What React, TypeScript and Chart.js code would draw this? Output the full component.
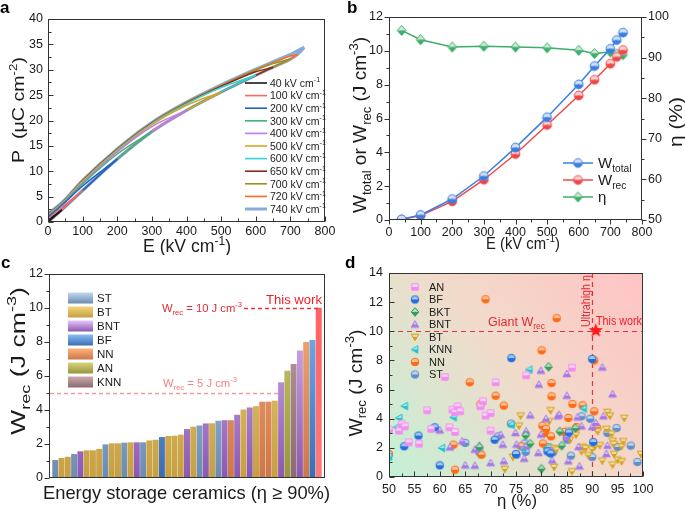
import React, { useEffect, useRef } from 'react';
import { Chart, registerables } from 'chart.js';

Chart.register(...registerables);

const FONT = '"Liberation Sans", Arial, Helvetica, sans-serif';
const TXT = '#1b1b1b';
const AXIS = '#333333';
Chart.defaults.font.family = FONT;
Chart.defaults.color = TXT;

/* ---------------- panel a: P-E loops ---------------- */
const loopFields = [40, 100, 200, 300, 400, 500, 600, 650, 700, 720, 740];
const chargeE = [0, 40, 100, 200, 300, 400, 500, 600, 650, 700, 720, 740];
const chargeP = [0, 2.4, 6.2, 12.4, 17.8, 22.0, 25.6, 28.9, 30.5, 32.1, 33.0, 34.4];
const dischargeP = [
  [0.3, 2.4],
  [0.6, 2.9, 6.2],
  [0.9, 3.3, 7.1, 12.4],
  [1.1, 3.4, 7.5, 13.4, 17.8],
  [1.2, 3.5, 7.7, 13.8, 18.8, 22.0],
  [1.3, 3.6, 7.9, 14.0, 19.2, 23.0, 25.6],
  [1.4, 3.7, 8.0, 14.2, 19.4, 23.3, 26.5, 28.9],
  [1.5, 3.7, 8.1, 14.3, 19.5, 23.4, 26.7, 29.6, 30.5],
  [1.5, 3.8, 8.1, 14.3, 19.5, 23.5, 26.8, 29.9, 31.2, 32.1],
  [1.6, 3.8, 8.2, 14.4, 19.6, 23.6, 26.9, 30.0, 31.4, 32.7, 33.0],
  [1.6, 3.8, 8.2, 14.4, 19.6, 23.6, 27.0, 30.1, 31.6, 33.0, 33.7, 34.4],
];

/* ---------------- panel b ---------------- */
const fieldsB = [40, 100, 200, 300, 400, 500, 600, 650, 700, 720, 740];
const wTotal = [0.04, 0.3, 1.24, 2.6, 4.28, 6.08, 8.02, 9.1, 10.12, 10.64, 11.08];
const wRec = [0.03, 0.26, 1.1, 2.38, 3.9, 5.62, 7.36, 8.29, 9.24, 9.64, 10.05];
const etaB = [96.7, 94.4, 92.6, 92.8, 92.6, 92.4, 91.8, 91.0, 91.4, 90.9, 90.7];

/* ---------------- panel c ---------------- */
const barTypes = ['ST', 'BT', 'BT', 'ST', 'BNT', 'BT', 'BT', 'BT', 'ST', 'BT', 'BT', 'ST', 'BT', 'BNT', 'ST', 'BT', 'BT', 'BF', 'BT', 'BT', 'BT',
  'BNT', 'BT', 'ST', 'BNT', 'BT', 'ST', 'BNT', 'NN', 'BNT', 'BT', 'BNT', 'BT', 'NN', 'NN', 'BT', 'BNT', 'AN', 'KNN', 'BNT', 'NN', 'BF', 'This work'];
const barValues = [1.04, 1.16, 1.23, 1.39, 1.55, 1.61, 1.61, 1.69, 1.96, 2.02, 2.02, 2.06, 2.08, 2.08, 2.08, 2.19, 2.23, 2.39, 2.45, 2.47, 2.53,
  2.86, 3.0, 3.07, 3.19, 3.2, 3.35, 3.38, 3.38, 3.7, 4.01, 4.13, 4.21, 4.47, 4.47, 4.53, 5.61, 6.29, 6.69, 7.48, 7.98, 8.1, 10.0];
const legendTypesC = ['ST', 'BT', 'BNT', 'BF', 'NN', 'AN', 'KNN'];
const refLinesC = [10, 5];

/* ---------------- panel d ---------------- */
const classesD = ['AN', 'BF', 'BKT', 'BNT', 'BT', 'KNN', 'NN', 'ST'];
const anPts = [[50, 3.25], [52, 3.18], [52.5, 3.66], [53.1, 3.48], [53.9, 2.38], [55.9, 2.29], [57.5, 4.58], [58.3, 3.3], [61, 6.87], [61.9, 3.41], [62.5, 4.62], [63, 4.46], [63, 3.09], [63.5, 4.85], [64, 4.51], [68, 4.85], [68.5, 5.2], [69, 4.21], [70, 4.39], [70, 3.18], [71, 6.5], [77, 6.98], [86, 7.5]];
const bfPts = [[53, 2.11], [55.8, 2.84], [59, 3.41], [60, 0.8], [70.8, 2.56], [74.1, 8.16], [75, 1.58], [81.2, 1.76], [81.8, 1.62], [85.4, 3.05], [90, 8.1], [90.2, 2.4]];
const bktPts = [[67.8, 2.05], [76.9, 2.86], [77.8, 2.29], [80, 0.57], [81.4, 7.56], [83.6, 3.12], [84, 2.15], [86.7, 3.35]];
const bntPts = [[60, 3.2], [62, 2.04], [64.4, 2.45], [65, 0.8], [66.9, 1.88], [66.9, 0.78], [67.8, 2.15], [70, 0.96], [72, 2.9], [72.4, 2.22], [72.6, 1.08], [74.9, 3.02], [75.1, 2.22], [76.6, 1.26], [77, 3.14], [77, 2.11], [77.8, 4.23], [79.4, 1.65], [79.5, 6.34], [79.9, 7.3], [79.9, 2.91], [80.9, 4.0], [81.9, 1.83], [82.1, 1.14], [83.2, 4.17], [83.5, 4.28], [85, 7.07], [85, 5.58], [85, 2.75], [85.3, 1.08], [87.1, 4.1], [87.3, 2.06], [87.5, 0.73], [87.9, 3.48], [90, 3.43], [90.7, 3.71], [92, 7.52], [92.2, 4.17], [92.8, 1.58], [93, 2.15], [94, 5.68]];
const btPts = [[72.8, 0.55], [74.4, 1.38], [75.6, 3.52], [75.9, 4.21], [81.5, 3.82], [81.8, 4.58], [82.3, 1.99], [82.5, 0.69], [82.9, 1.88], [85.4, 3.2], [85.6, 2.55], [86, 0.39], [86.8, 2.91], [87.9, 1.76], [88.2, 2.07], [88.7, 1.99], [89.2, 1.5], [90, 1.92], [90.5, 2.11], [91.1, 3.14], [91.5, 2.18], [92, 1.12], [92.8, 3.3], [93, 4.46], [93.5, 4.21], [93.8, 2.97], [94, 2.49], [94, 0.85], [94.2, 2.27], [94.3, 1.58], [95, 1.19], [95.8, 2.11], [95.8, 1.08], [96.1, 2.45], [96.3, 4.05], [99.6, 1.58]];
const knnPts = [[50, 1.4], [51.6, 3.41], [52, 4.05], [53.1, 4.87], [60.4, 1.99], [62.7, 4.1], [74.1, 3.59], [76.4, 1.95], [77.6, 7.37], [81.4, 2.06], [88.3, 4.7]];
const nnPts = [[50, 1.58], [62.7, 2.22], [63, 0.5], [65.9, 6.5], [68, 4.99], [68.2, 1.53], [69, 12.2], [71, 5.58], [72.6, 4.9], [76, 2.11], [80.05, 8.69], [80.2, 3.52], [80.3, 2.3], [80.7, 3.02], [80.9, 3.3], [81.9, 2.79], [82, 6.45], [82, 5.54], [83, 10.9], [84.5, 3.09], [85.3, 4.05], [86.1, 5.01], [86.9, 3.43], [88.1, 4.92], [90.4, 8.0], [90.4, 4.51], [90.9, 3.41]];
const stPts = [[65, 2.34], [67.8, 1.7], [71.5, 2.79], [74, 3.66], [75.1, 1.53], [76.7, 2.3], [76.9, 1.72], [81.1, 2.06], [82.3, 1.7], [85, 2.75], [85.1, 2.56], [85.8, 1.46], [87.9, 4.17], [89.6, 4.0], [90, 1.37], [93, 3.02], [94.8, 3.36], [95, 2.06], [97.6, 2.15], [98.9, 1.03]];
const thisWorkD = [[90.7, 10.05]];
const giantW = 10;
const ultraEta = 90;

/* ---------------- styles ---------------- */
const loopColors = ['#1a1a1a', '#f26b6b', '#1f5fcf', '#3db37a', '#c477f0', '#d9a521', '#35d3d3', '#8a2a22', '#97951a', '#ff6a1f', '#86acd9'];
const barTop: Record<string, string> = { ST: '#c4d9ef', BT: '#f3d67c', BNT: '#e6c8fb', BF: '#88bff4', NN: '#ffb27a', AN: '#d8d47a', KNN: '#cbabab', 'This work': '#ff5c5c' };
const barBottom: Record<string, string> = { ST: '#6a8cb0', BT: '#c69f42', BNT: '#8a58b2', BF: '#3c6db4', NN: '#cc774a', AN: '#98943c', KNN: '#8a6970', 'This work': '#ff7a7a' };
const shapeD: Record<string, string> = { AN: 'square', BF: 'circle', BKT: 'diamond', BNT: 'up', BT: 'down', KNN: 'left', NN: 'circle', ST: 'circle' };
const colorD: Record<string, string> = { AN: '#f28ef0', BF: '#1f6fe0', BKT: '#2f9e5e', BNT: '#a678e6', BT: '#d4a21c', KNN: '#1fc2cf', NN: '#ff6a12', ST: '#5f8fcb' };
const ptsD: Record<string, number[][]> = { AN: anPts, BF: bfPts, BKT: bktPts, BNT: bntPts, BT: btPts, KNN: knnPts, NN: nnPts, ST: stPts };

/* ---------------- helpers ---------------- */
type Seg = [string, number];

function drawRich(ctx: any, segs: Seg[], x: number, y: number, size: number, color: string, opts: any = {}) {
  const small = size * 0.68;
  ctx.save();
  ctx.translate(x, y);
  if (opts.rot) ctx.rotate(opts.rot);
  let w = 0;
  const widths = segs.map(([t, k]) => {
    ctx.font = `${opts.weight || 'normal'} ${k ? small : size}px ${FONT}`;
    const m = ctx.measureText(t).width;
    w += m;
    return m;
  });
  if (opts.len) ctx.scale(opts.len / w, 1);
  const align = opts.align || 'center';
  let cx = align === 'center' ? -w / 2 : align === 'right' ? -w : 0;
  ctx.fillStyle = color;
  ctx.textBaseline = 'alphabetic';
  ctx.textAlign = 'left';
  const base = size * 0.36;
  segs.forEach(([t, k], i) => {
    ctx.font = `${opts.weight || 'normal'} ${k ? small : size}px ${FONT}`;
    const dy = k === 1 ? size * 0.25 : k === 2 ? -size * 0.42 : 0;
    ctx.fillText(t, cx, base + dy);
    cx += widths[i];
  });
  ctx.restore();
}

function frame(ctx: any, ca: any) {
  ctx.save();
  ctx.strokeStyle = AXIS;
  ctx.lineWidth = 1;
  ctx.strokeRect(Math.round(ca.left) + 0.5, Math.round(ca.top) + 0.5, Math.round(ca.right - ca.left) - 1, Math.round(ca.bottom - ca.top) - 1);
  ctx.restore();
}

function drawTicks(ctx: any, scale: any, side: string, major: number, minor: number, inward: boolean) {
  const ca = scale.chart.chartArea;
  ctx.save();
  ctx.strokeStyle = AXIS;
  ctx.lineWidth = 1;
  ctx.beginPath();
  const n = Math.round((scale.max - scale.min) / minor);
  for (let i = 0; i <= n; i++) {
    const v = scale.min + i * minor;
    const isMaj = Math.abs(v / major - Math.round(v / major)) < 1e-6;
    const len = isMaj ? 5 : 3;
    const p = Math.round(scale.getPixelForValue(v)) + 0.5;
    if (side === 'b') {
      const y0 = Math.round(ca.bottom) - 0.5;
      ctx.moveTo(p, y0);
      ctx.lineTo(p, inward ? y0 - len : y0 + len);
    } else if (side === 'l') {
      const x0 = Math.round(ca.left) + 0.5;
      ctx.moveTo(x0, p);
      ctx.lineTo(inward ? x0 + len : x0 - len, p);
    } else {
      const x0 = Math.round(ca.right) - 0.5;
      ctx.moveTo(x0, p);
      ctx.lineTo(inward ? x0 - len : x0 + len, p);
    }
  }
  ctx.stroke();
  ctx.restore();
}

function panelLabel(ctx: any, t: string, x: number, y: number) {
  ctx.save();
  ctx.font = `bold 17px ${FONT}`;
  ctx.fillStyle = '#000';
  ctx.textBaseline = 'alphabetic';
  ctx.textAlign = 'left';
  ctx.fillText(t, x, y);
  ctx.restore();
}

function mix(hex: string, t: number) {
  const n = parseInt(hex.slice(1), 16);
  const r = (n >> 16) & 255, g = (n >> 8) & 255, b = n & 255;
  const f = (c: number) => Math.round(c + (255 - c) * t);
  return `rgb(${f(r)},${f(g)},${f(b)})`;
}

function shapePath(g: any, shape: string, cx: number, cy: number, r: number) {
  g.beginPath();
  if (shape === 'circle') g.arc(cx, cy, r, 0, Math.PI * 2);
  else if (shape === 'square') g.rect(cx - r * 0.85, cy - r * 0.85, r * 1.7, r * 1.7);
  else if (shape === 'diamond') { g.moveTo(cx, cy - r * 1.15); g.lineTo(cx + r, cy); g.lineTo(cx, cy + r * 1.15); g.lineTo(cx - r, cy); g.closePath(); }
  else if (shape === 'up') { g.moveTo(cx, cy - r); g.lineTo(cx + r, cy + r * 0.75); g.lineTo(cx - r, cy + r * 0.75); g.closePath(); }
  else if (shape === 'down') { g.moveTo(cx, cy + r); g.lineTo(cx + r, cy - r * 0.75); g.lineTo(cx - r, cy - r * 0.75); g.closePath(); }
  else if (shape === 'left') { g.moveTo(cx - r, cy); g.lineTo(cx + r * 0.75, cy - r); g.lineTo(cx + r * 0.75, cy + r); g.closePath(); }
}

function makeMarker(shape: string, color: string, r: number, light = 0.6) {
  const s = Math.ceil(r * 2 + 4);
  const c = document.createElement('canvas');
  c.width = s; c.height = s;
  const g = c.getContext('2d')!;
  const cx = s / 2, cy = s / 2;
  g.save();
  shapePath(g, shape, cx, cy, r);
  g.clip();
  g.fillStyle = mix(color, light);
  g.fillRect(0, 0, s, cy);
  g.fillStyle = color;
  g.fillRect(0, cy, s, s);
  g.restore();
  shapePath(g, shape, cx, cy, r);
  g.lineWidth = 1;
  g.strokeStyle = color;
  g.stroke();
  return c;
}

function makeStar(r: number, color: string) {
  const s = Math.ceil(r * 2 + 2);
  const c = document.createElement('canvas');
  c.width = s; c.height = s;
  const g = c.getContext('2d')!;
  const cx = s / 2, cy = s / 2;
  g.beginPath();
  for (let i = 0; i < 10; i++) {
    const a = -Math.PI / 2 + (i * Math.PI) / 5;
    const rr = i % 2 === 0 ? r : r * 0.42;
    const x = cx + rr * Math.cos(a), y = cy + rr * Math.sin(a);
    if (i === 0) g.moveTo(x, y); else g.lineTo(x, y);
  }
  g.closePath();
  g.fillStyle = color;
  g.fill();
  return c;
}

function lin(min: number, max: number, step: number, pad: number, fit: (s: any) => void, extra: any = {}) {
  return {
    type: 'linear', min, max, offset: false,
    grid: { display: false, drawTicks: false },
    border: { display: false },
    ticks: { stepSize: step, padding: pad, color: TXT, font: { size: 12.5, family: FONT }, autoSkip: false, maxRotation: 0 },
    afterFit: fit,
    ...extra,
  };
}

const baseOpts = {
  animation: false,
  responsive: false,
  events: [],
  plugins: { legend: { display: false }, tooltip: { enabled: false } },
};

/* ---------------- chart builders ---------------- */
function makeA(canvas: HTMLCanvasElement) {
  const datasets: any[] = [];
  loopFields.forEach((f, i) => {
    const d = dischargeP[i];
    const k = d.length - 1;
    const up: any[] = [];
    const down: any[] = [];
    for (let j = 0; j <= k; j++) {
      up.push({ x: chargeE[j], y: chargeP[j] });
      down.push({ x: chargeE[j], y: d[j] });
    }
    const common = { showLine: true, borderColor: loopColors[i], borderWidth: i === 10 ? 3.2 : 1.5, pointRadius: 0, cubicInterpolationMode: 'monotone', fill: false };
    datasets.push({ label: `${f} up`, data: up, ...common });
    datasets.push({ label: `${f} down`, data: down, ...common });
  });
  return new Chart(canvas, {
    type: 'scatter',
    data: { datasets },
    options: {
      ...baseOpts,
      layout: { padding: { left: 0, top: 19, right: 17, bottom: 0 } },
      scales: {
        x: lin(0, 800, 100, 2, (s) => { s.height = 33; }),
        y: lin(0, 40, 5, 5, (s) => { s.width = 48; }),
      },
    } as any,
    plugins: [{
      id: 'decoA',
      afterDraw(chart: any) {
        const ctx = chart.ctx, ca = chart.chartArea;
        frame(ctx, ca);
        drawTicks(ctx, chart.scales.x, 'b', 100, 50, true);
        drawTicks(ctx, chart.scales.y, 'l', 5, 2.5, true);
        loopFields.forEach((f, i) => {
          const y = 83 + i * 12.6;
          ctx.save();
          ctx.strokeStyle = loopColors[i];
          ctx.lineWidth = i === 10 ? 3 : 1.6;
          ctx.beginPath(); ctx.moveTo(245, y); ctx.lineTo(267, y); ctx.stroke();
          ctx.restore();
          drawRich(ctx, [[`${f} kV cm`, 0], ['-1', 2]], 270, y, 10.5, TXT, { align: 'left' });
        });
        drawRich(ctx, [['P  (μC cm', 0], ['-2', 2], [')', 0]], 18, 110, 17, TXT, { rot: -Math.PI / 2, len: 106 });
        drawRich(ctx, [['E (kV cm', 0], ['-1', 2], [')', 0]], 187, 246, 17.5, TXT, { len: 88 });
        panelLabel(ctx, 'a', 0, 13);
      },
    }],
  });
}

function makeB(canvas: HTMLCanvasElement) {
  const mT = makeMarker('circle', '#3a7fe0', 4.4, 0.75);
  const mR = makeMarker('circle', '#f04848', 4.4, 0.75);
  const mE = makeMarker('diamond', '#3fae6a', 4.4, 0.75);
  const ds = (vals: number[], color: string, m: any, axis: string) => ({
    data: fieldsB.map((x, i) => ({ x, y: vals[i] })), showLine: true, borderColor: color, borderWidth: 1.5,
    pointStyle: m, pointRadius: 4, yAxisID: axis, tension: 0,
  });
  return new Chart(canvas, {
    type: 'scatter',
    data: { datasets: [ds(wTotal, '#3a7fe0', mT, 'y'), ds(wRec, '#f04848', mR, 'y'), ds(etaB, '#3fae6a', mE, 'y1')] },
    options: {
      ...baseOpts,
      layout: { padding: { left: 0, top: 17, right: 0, bottom: 0 } },
      scales: {
        x: lin(0, 800, 100, 5, (s) => { s.height = 35; }),
        y: lin(0, 12, 2, 6, (s) => { s.width = 47; }),
        y1: lin(50, 100, 10, 6, (s) => { s.width = 43; }, { position: 'right' }),
      },
    } as any,
    plugins: [{
      id: 'decoB',
      afterDraw(chart: any) {
        const ctx = chart.ctx, ca = chart.chartArea;
        frame(ctx, ca);
        drawTicks(ctx, chart.scales.x, 'b', 100, 50, false);
        drawTicks(ctx, chart.scales.y, 'l', 2, 1, false);
        drawTicks(ctx, chart.scales.y1, 'r', 10, 5, false);
        const items: [Seg[], string, any][] = [
          [[['W', 0], ['total', 1]], '#3a7fe0', mT],
          [[['W', 0], ['rec', 1]], '#f04848', mR],
          [[['η', 0]], '#3fae6a', mE],
        ];
        items.forEach(([segs, col, m], i) => {
          const y = 163 + i * 17;
          ctx.save();
          ctx.strokeStyle = col; ctx.lineWidth = 1.5;
          ctx.beginPath(); ctx.moveTo(221, y); ctx.lineTo(251, y); ctx.stroke();
          ctx.drawImage(m, 236 - m.width / 2, y - m.height / 2);
          ctx.restore();
          drawRich(ctx, segs, 256, y, 15, TXT, { align: 'left' });
        });
        drawRich(ctx, [['W', 0], ['total', 1], [' or W', 0], ['rec', 1], [' (J cm', 0], ['-3', 2], [')', 0]], 17, 125, 19, TXT, { rot: -Math.PI / 2, len: 176 });
        drawRich(ctx, [['η (%)', 0]], 333, 122, 19, TXT, { rot: -Math.PI / 2, len: 50 });
        drawRich(ctx, [['E (kV cm', 0], ['-1', 2], [')', 0]], 181, 243, 17, TXT, { len: 74 });
        panelLabel(ctx, 'b', 5, 13);
      },
    }],
  });
}

function makeC(canvas: HTMLCanvasElement) {
  const grads: Record<string, any> = {};
  const gradFor = (chart: any, t: string) => {
    const ca = chart.chartArea;
    if (!ca) return barTop[t];
    if (!grads[t]) {
      const g = chart.ctx.createLinearGradient(0, ca.top, 0, ca.bottom);
      g.addColorStop(0, barTop[t]);
      g.addColorStop(1, barBottom[t]);
      grads[t] = g;
    }
    return grads[t];
  };
  return new Chart(canvas, {
    type: 'bar',
    data: {
      datasets: [{
        data: barValues.map((v, i) => ({ x: i, y: v })),
        backgroundColor: (c: any) => gradFor(c.chart, barTypes[c.dataIndex]),
        barThickness: 5.3,
        borderWidth: 0,
      }],
    },
    options: {
      ...baseOpts,
      layout: { padding: { left: 0, top: 19, right: 17, bottom: 0 } },
      scales: {
        x: lin(-1, barValues.length, 1, 0, (s) => { s.height = 33; }, { ticks: { display: false } }),
        y: lin(0, 12, 2, 6, (s) => { s.width = 49; }),
      },
    } as any,
    plugins: [{
      id: 'decoC',
      afterDraw(chart: any) {
        const ctx = chart.ctx, ca = chart.chartArea;
        const ys = chart.scales.y;
        frame(ctx, ca);
        drawTicks(ctx, ys, 'l', 2, 1, false);
        const y10 = Math.round(ys.getPixelForValue(refLinesC[0])) + 0.5;
        const y5 = Math.round(ys.getPixelForValue(refLinesC[1])) + 0.5;
        ctx.save();
        ctx.setLineDash([4, 3]);
        ctx.lineWidth = 1.3;
        ctx.strokeStyle = '#e8343c';
        ctx.beginPath(); ctx.moveTo(244, y10); ctx.lineTo(318, y10); ctx.stroke();
        ctx.strokeStyle = '#f79a9a';
        ctx.beginPath(); ctx.moveTo(ca.left + 1, y5); ctx.lineTo(278, y5); ctx.stroke();
        ctx.restore();
        drawRich(ctx, [['W', 0], ['rec', 1], [' = 10 J cm', 0], ['-3', 2]], 162, y10 - 1, 11.5, '#e02a32', { align: 'left', len: 80 });
        drawRich(ctx, [['This work', 0]], 322, 44, 13, '#f01e28', { align: 'right', len: 56 });
        drawRich(ctx, [['W', 0], ['rec', 1], [' = 5 J cm', 0], ['-3', 2]], 163, 128, 11.5, '#f58080', { align: 'left', len: 74 });
        legendTypesC.forEach((t, i) => {
          const y = 43 + i * 14;
          const g = ctx.createLinearGradient(0, y - 5.5, 0, y + 5.5);
          g.addColorStop(0, barTop[t]);
          g.addColorStop(1, barBottom[t]);
          ctx.fillStyle = g;
          ctx.fillRect(68, y - 5.5, 25, 11);
          drawRich(ctx, [[t, 0]], 97, y, 11.5, TXT, { align: 'left' });
        });
        drawRich(ctx, [['W', 0], ['rec', 1], [' (J cm', 0], ['-3', 2], [')', 0]], 17.5, 106, 20, TXT, { rot: -Math.PI / 2, len: 148 });
        drawRich(ctx, [['Energy storage ceramics (η ≥ 90%)', 0]], 186.5, 237, 18.5, TXT, { len: 287 });
        panelLabel(ctx, 'c', 1, 13);
      },
    }],
  });
}

function makeD(canvas: HTMLCanvasElement) {
  const markers: Record<string, any> = {};
  classesD.forEach((c) => { markers[c] = makeMarker(shapeD[c], colorD[c], 3.8, 0.6); });
  const star = makeStar(7.5, '#ff1a1a');
  const datasets: any[] = [{
    data: thisWorkD.map(([x, y]) => ({ x, y })), pointStyle: star, pointRadius: 6,
  }];
  classesD.forEach((c) => {
    datasets.push({ data: ptsD[c].map(([x, y]) => ({ x, y })), pointStyle: markers[c], pointRadius: 4 });
  });
  return new Chart(canvas, {
    type: 'scatter',
    data: { datasets },
    options: {
      ...baseOpts,
      layout: { padding: { left: 0, top: 18, right: 42, bottom: 0 } },
      scales: {
        x: lin(50, 100, 5, 5, (s) => { s.height = 34; }),
        y: lin(0, 14, 2, 6, (s) => { s.width = 47; }),
      },
    } as any,
    plugins: [{
      id: 'decoD',
      beforeDraw(chart: any) {
        const ctx = chart.ctx, ca = chart.chartArea;
        const g = ctx.createLinearGradient(ca.left, ca.bottom, ca.right, ca.top);
        g.addColorStop(0, '#c3f1d5');
        g.addColorStop(0.5, '#f1dbcb');
        g.addColorStop(1, '#ffc3c3');
        ctx.save();
        ctx.fillStyle = g;
        ctx.fillRect(ca.left, ca.top, ca.right - ca.left, ca.bottom - ca.top);
        ctx.restore();
      },
      beforeDatasetsDraw(chart: any) {
        const ctx = chart.ctx, ca = chart.chartArea;
        const yy = Math.round(chart.scales.y.getPixelForValue(giantW)) + 0.5;
        const xx = Math.round(chart.scales.x.getPixelForValue(ultraEta)) + 0.5;
        ctx.save();
        ctx.setLineDash([5, 4]);
        ctx.lineWidth = 1.2;
        ctx.strokeStyle = '#e3343d';
        ctx.beginPath(); ctx.moveTo(ca.left, yy); ctx.lineTo(ca.right, yy); ctx.stroke();
        ctx.beginPath(); ctx.moveTo(xx, ca.top); ctx.lineTo(xx, ca.bottom); ctx.stroke();
        ctx.restore();
      },
      afterDraw(chart: any) {
        const ctx = chart.ctx, ca = chart.chartArea;
        frame(ctx, ca);
        drawTicks(ctx, chart.scales.x, 'b', 5, 2.5, true);
        drawTicks(ctx, chart.scales.y, 'l', 2, 1, true);
        drawRich(ctx, [['Giant W', 0], ['rec', 1]], 203, 67, 12, '#e02a32', { align: 'right', len: 57 });
        drawRich(ctx, [['This work', 0]], 254, 66, 12, '#f01e28', { align: 'left', len: 46 });
        drawRich(ctx, [['Ultrahigh η', 0]], 243, 46, 12.5, '#e02a32', { rot: -Math.PI / 2, len: 52 });
        classesD.forEach((c, i) => {
          const y = 32 + i * 12.5;
          const m = markers[c];
          ctx.drawImage(m, 73 - m.width / 2, y - m.height / 2);
          drawRich(ctx, [[c, 0]], 87, y, 11, TXT, { align: 'left' });
        });
        drawRich(ctx, [['W', 0], ['rec', 1], [' (J cm', 0], ['-3', 2], [')', 0]], 13.5, 128, 18, TXT, { rot: -Math.PI / 2, len: 107 });
        drawRich(ctx, [['η (%)', 0]], 175, 245, 17, TXT, { len: 40 });
        panelLabel(ctx, 'd', 3, 13);
      },
    }],
  });
}

function Panel({ left, top, width, height, make }: any) {
  const ref = useRef<HTMLCanvasElement>(null);
  useEffect(() => {
    const chart = make(ref.current!);
    return () => chart.destroy();
  }, []);
  return <canvas ref={ref} width={width} height={height} style={{ position: 'absolute', left, top, width, height }} />;
}

export default function App() {
  return (
    <div style={{ position: 'absolute', left: 0, top: 0, width: 685, height: 511, background: '#fff', overflow: 'hidden' }}>
      <Panel left={0} top={0} width={342} height={255} make={makeA} />
      <Panel left={342} top={0} width={343} height={255} make={makeB} />
      <Panel left={0} top={255} width={342} height={256} make={makeC} />
      <Panel left={342} top={255} width={343} height={256} make={makeD} />
    </div>
  );
}
